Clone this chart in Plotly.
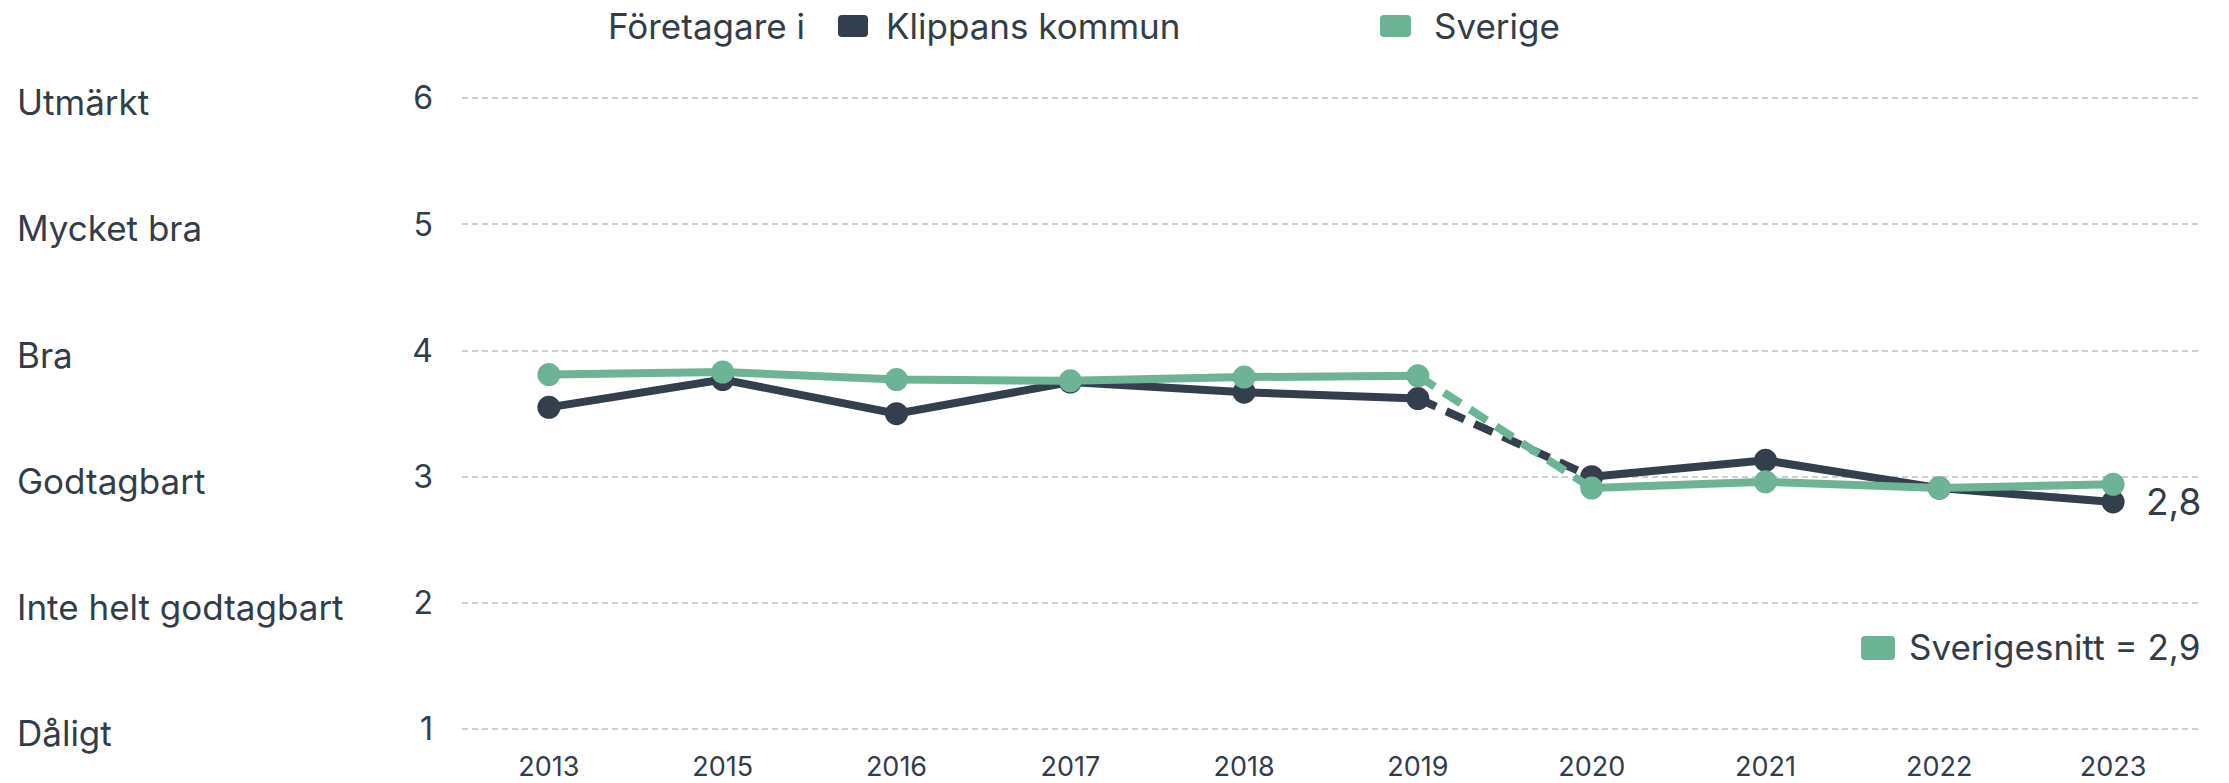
import plotly.graph_objects as go

# data
years = ["2013", "2015", "2016", "2017", "2018", "2019", "2020", "2021", "2022", "2023"]
klippan = [3.55, 3.77, 3.50, 3.75, 3.67, 3.62, 3.00, 3.13, 2.91, 2.80]
sverige = [3.81, 3.83, 3.77, 3.76, 3.79, 3.80, 2.91, 2.96, 2.91, 2.94]
y_ticks = [1, 2, 3, 4, 5, 6]
y_labels = ["Dåligt", "Inte helt godtagbart", "Godtagbart", "Bra", "Mycket bra", "Utmärkt"]
break_at = 6  # dashed segment between 2019 and 2020

DARK = "#333f4c"
GREEN = "#6db396"
TEXT = "#323d49"
GRID = "#cfcfcf"
FONT = "Inter"

W, H = 2229, 783
L, R, T, B = 462, 29, 73, 35
PW, PH = W - L - R, H - T - B


def px_x(px):
    return (px - L) / PW


def px_y(py):
    return (H - B - py) / PH


def swatch(x0, y0, x1, y1, color, r=4):
    # rounded rectangle in pixel coords -> paper path
    pts = lambda x, y: f"{px_x(x)},{px_y(y)}"
    path = (f"M {pts(x0 + r, y0)} L {pts(x1 - r, y0)} Q {pts(x1, y0)} {pts(x1, y0 + r)} "
            f"L {pts(x1, y1 - r)} Q {pts(x1, y1)} {pts(x1 - r, y1)} "
            f"L {pts(x0 + r, y1)} Q {pts(x0, y1)} {pts(x0, y1 - r)} "
            f"L {pts(x0, y0 + r)} Q {pts(x0, y0)} {pts(x0 + r, y0)} Z")
    return dict(type="path", xref="paper", yref="paper", path=path,
                fillcolor=color, line=dict(width=0), layer="above")


fig = go.Figure()

for name, vals, color in [("Klippans kommun", klippan, DARK), ("Sverige", sverige, GREEN)]:
    # solid parts with a gap, markers on every year
    fig.add_trace(go.Scatter(
        x=years[:break_at] + [None] + years[break_at:],
        y=vals[:break_at] + [None] + vals[break_at:],
        mode="lines+markers", name=name, showlegend=False,
        line=dict(color=color, width=8),
        marker=dict(size=23, color=color),
    ))
    # dashed connection 2019 -> 2020
    fig.add_trace(go.Scatter(
        x=years[break_at - 1:break_at + 1], y=vals[break_at - 1:break_at + 1],
        mode="lines", showlegend=False, hoverinfo="skip",
        line=dict(color=color, width=8, dash="20px,11px"),
    ))

annotations = []
# category labels on the far left
for v, lab in zip(y_ticks, y_labels):
    annotations.append(dict(x=px_x(15), xref="paper", y=v, yref="y", text=lab,
                            xanchor="left", yanchor="middle", showarrow=False, yshift=-4,
                            font=dict(family=FONT, size=35, color=TEXT)))

# end label for Klippan
annotations.append(dict(x=len(years) - 1, y=klippan[-1], text=f"{klippan[-1]:.1f}".replace(".", ","),
                        xanchor="left", yanchor="middle", xshift=31, showarrow=False,
                        font=dict(family=FONT, size=37, color=TEXT)))

# top legend
for px, label in [(606, "Företagare i"), (884, "Klippans kommun"), (1432, "Sverige")]:
    annotations.append(dict(x=px_x(px), xref="paper", y=px_y(26), yref="paper", text=label,
                            xanchor="left", yanchor="middle", showarrow=False,
                            font=dict(family=FONT, size=35, color=TEXT)))

# bottom-right average legend
annotations.append(dict(x=px_x(2202), xref="paper", y=px_y(647), yref="paper",
                        text=f"Sverigesnitt = {sverige[-1]:.1f}".replace(".", ","),
                        xanchor="right", yanchor="middle", showarrow=False,
                        font=dict(family=FONT, size=35, color=TEXT)))

shapes = [
    swatch(838, 15, 868, 37, DARK),
    swatch(1380, 15, 1411, 37, GREEN),
    swatch(1861, 636, 1895, 660, GREEN),
]

fig.update_xaxes(type="category", categoryorder="array", categoryarray=years,
                 range=[-0.5, len(years) - 0.5], showgrid=False, zeroline=False, showline=False,
                 automargin=False, tickfont=dict(family=FONT, size=27, color=TEXT))
fig.update_yaxes(range=[0.85, 6.2], tickvals=y_ticks, showgrid=True, gridcolor=GRID, gridwidth=1.5,
                 griddash="6px,4px", zeroline=False, showline=False, ticklabelstandoff=28,
                 automargin=False, tickfont=dict(family=FONT, size=32, color=TEXT))

fig.update_layout(width=W, height=H, margin=dict(l=L, r=R, t=T, b=B),
                  plot_bgcolor="white", paper_bgcolor="white", showlegend=False,
                  annotations=annotations, shapes=shapes,
                  font=dict(family=FONT, color=TEXT))

# drop the default page margin so the figure sits at the window's corner
fig.write_html("out.html", config={"displayModeBar": False},
               post_script="document.body.style.margin = '0';")
